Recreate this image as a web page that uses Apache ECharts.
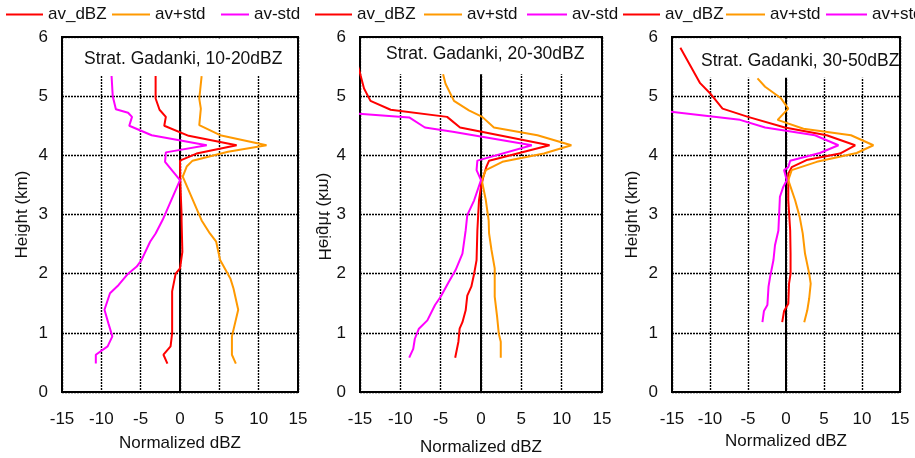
<!DOCTYPE html>
<html><head><meta charset="utf-8">
<script src="https://cdn.jsdelivr.net/npm/echarts@6/dist/echarts.min.js"></script>
<style>html,body{margin:0;padding:0;background:#fff}#c{width:915px;height:458px}</style>
</head><body><div id="c"></div>
<script>
// ---------- DATA ----------
const seriesNames = ['av_dBZ', 'av+std', 'av-std'];
const panelTitles = ['Strat. Gadanki, 10-20dBZ', 'Strat. Gadanki, 20-30dBZ', 'Strat. Gadanki, 30-50dBZ'];
// legend texts as printed (third panel labels its magenta line "av+std")
const legendLabels = [['av_dBZ', 'av+std', 'av-std'], ['av_dBZ', 'av+std', 'av-std'], ['av_dBZ', 'av+std', 'av+std']];
const xAxisTitle = 'Normalized dBZ';
const yAxisTitle = 'Height (km)';

// Panel 1: 10-20 dBZ  (h = height km, v = normalized dBZ)
const p1_av_h   = [5.34, 4.96, 4.77, 4.65, 4.50, 4.33, 4.17, 4.03, 3.91, 3.50, 3.00, 2.90, 2.37, 2.09, 2.00, 1.70, 0.99, 0.77, 0.63, 0.48];
const p1_av_v   = [-3.1, -3.1, -2.6, -1.8, -2.0, 1.1, 7.2, 2.1, 0.0, 0.05, 0.2, 0.2, 0.3, 0.0, -0.55, -1.0, -1.0, -1.2, -2.1, -1.6];
const p1_plus_h = [5.34, 4.96, 4.79, 4.51, 4.34, 4.17, 4.06, 3.91, 3.81, 3.64, 2.90, 2.68, 2.54, 2.23, 1.92, 1.75, 1.39, 0.94, 0.63, 0.48];
const p1_plus_v = [2.75, 2.45, 2.65, 2.45, 5.1, 11.0, 6.1, 1.6, 0.85, 0.35, 2.75, 3.8, 4.6, 5.1, 6.4, 6.8, 7.4, 6.6, 6.6, 7.1];
const p1_minus_h = [5.34, 5.00, 4.78, 4.72, 4.65, 4.50, 4.34, 4.17, 4.05, 3.89, 3.58, 2.91, 2.68, 2.54, 2.23, 2.12, 2.00, 1.81, 1.67, 1.39, 1.16, 0.94, 0.77, 0.63, 0.48];
const p1_minus_v = [-8.7, -8.55, -8.15, -6.6, -6.1, -6.45, -3.6, 3.4, -1.8, -1.9, 0.0, -2.2, -3.1, -3.8, -4.9, -5.5, -6.6, -7.8, -8.9, -9.6, -9.1, -8.6, -9.2, -10.7, -10.7];

// Panel 2: 20-30 dBZ
const p2_av_h   = [5.83, 5.61, 5.44, 5.13, 4.92, 4.77, 4.65, 4.47, 4.17, 3.91, 3.80, 3.64, 3.47, 3.24, 2.73, 2.23, 2.00, 1.78, 1.63, 1.38, 1.18, 1.07, 0.85, 0.58];
const p2_av_v   = [-15.8, -15.5, -15.1, -14.5, -13.7, -11.2, -4.2, -2.6, 8.5, 1.0, 0.65, 0.3, 0.0, -0.25, -0.45, -0.55, -0.85, -1.2, -1.7, -1.9, -2.3, -2.65, -2.8, -3.2];
const p2_plus_h = [5.37, 5.21, 4.92, 4.76, 4.65, 4.47, 4.34, 4.17, 4.03, 3.89, 3.75, 3.58, 3.24, 2.90, 2.68, 2.40, 2.09, 1.61, 1.27, 0.99, 0.85, 0.58];
const p2_plus_v = [-4.7, -4.4, -3.35, -1.5, 0.15, 1.6, 7.0, 11.2, 7.8, 2.65, 0.6, 0.1, 0.6, 0.95, 1.0, 1.3, 1.7, 1.7, 2.0, 2.2, 2.45, 2.45];
const p2_minus_h = [4.71, 4.64, 4.47, 4.40, 4.17, 3.91, 3.75, 3.58, 3.24, 2.99, 2.73, 2.34, 2.06, 1.86, 1.61, 1.47, 1.21, 1.07, 0.90, 0.73, 0.58];
const p2_minus_v = [-15.8, -8.9, -6.95, -3.5, 6.3, -0.45, -0.55, 0.0, -0.85, -1.7, -1.9, -2.3, -3.15, -4.0, -5.0, -5.7, -6.65, -7.7, -8.2, -8.4, -8.9];

// Panel 3: 30-50 dBZ
const p3_av_h   = [5.82, 5.22, 5.05, 4.79, 4.65, 4.47, 4.34, 4.17, 4.03, 3.92, 3.80, 3.69, 3.24, 2.73, 2.34, 2.00, 1.83, 1.49, 1.37, 1.18];
const p3_av_v   = [-13.9, -11.3, -10.0, -8.35, -5.0, -0.15, 5.35, 9.1, 7.1, 2.7, 0.75, 0.3, 0.3, 0.55, 0.6, 0.6, 0.4, 0.3, -0.25, -0.5];
const p3_plus_h = [5.30, 5.16, 4.97, 4.79, 4.60, 4.45, 4.34, 4.17, 4.04, 3.89, 3.75, 3.58, 3.24, 2.96, 2.68, 2.34, 2.00, 1.83, 1.58, 1.38, 1.18];
const p3_plus_v = [-3.75, -2.75, -0.7, 0.3, -1.1, 2.3, 8.55, 11.5, 9.3, 4.05, 0.75, 0.3, 1.2, 1.8, 2.2, 2.5, 3.05, 3.25, 3.05, 2.8, 2.4];
const p3_minus_h = [4.75, 4.60, 4.47, 4.34, 4.17, 4.04, 3.91, 3.80, 3.75, 3.58, 3.47, 3.30, 2.73, 2.48, 2.23, 1.94, 1.78, 1.47, 1.37, 1.18];
const p3_minus_v = [-16.0, -6.05, -2.75, 3.8, 6.9, 4.45, 0.55, 0.3, -0.25, 0.1, -0.35, -0.8, -1.0, -1.45, -1.65, -2.1, -2.3, -2.45, -2.9, -3.1];

// ---------- STYLE / LAYOUT ----------
const FONT = '"Liberation Sans", Arial, sans-serif';
const TXT = '#111';
const colors = ['#ff0000', '#ff9900', '#ff00ff'];
const gridBoxes = [{left: 62, width: 236}, {left: 360, width: 242}, {left: 672, width: 228}];
const GRID_TOP = 37, GRID_H = 355;
const titlePos = [{left: 84, top: 50}, {left: 386, top: 45}, {left: 701, top: 52}];
const titleCut = [5.34, 5.37, 5.31];
const legendLeft = [[6, 112, 221], [315, 424, 527], [623, 726, 826]];
const legendIconW = [[37, 38, 28], [37, 38, 40], [37, 39, 41]];
const xNameGap = [43, 47, 40];

const panels = [
  [[p1_av_v, p1_av_h], [p1_plus_v, p1_plus_h], [p1_minus_v, p1_minus_h]],
  [[p2_av_v, p2_av_h], [p2_plus_v, p2_plus_h], [p2_minus_v, p2_minus_h]],
  [[p3_av_v, p3_av_h], [p3_plus_v, p3_plus_h], [p3_minus_v, p3_minus_h]]
];
function zip(v, h) { return v.map((x, k) => [x, h[k]]); }

const dashed = {color: '#000', type: [2, 1], width: 1.4};
const grid = [], xAxis = [], yAxis = [], yZero = [], series = [], legend = [], title = [];

for (let i = 0; i < 3; i++) {
  grid.push({left: gridBoxes[i].left, width: gridBoxes[i].width, top: GRID_TOP, height: GRID_H,
    outerBoundsMode: 'none', containLabel: false,
    show: true, borderColor: '#000', borderWidth: 2, backgroundColor: 'transparent'});
  xAxis.push({type: 'value', gridIndex: i, min: -15, max: 15, interval: 5,
    axisLine: {show: false, onZero: false}, axisTick: {show: false},
    axisLabel: {fontSize: 17, color: TXT, fontFamily: FONT, margin: 19},
    splitLine: {show: true, lineStyle: dashed},
    name: xAxisTitle, nameLocation: 'middle', nameGap: xNameGap[i],
    nameTextStyle: {fontSize: 17, color: TXT, fontFamily: FONT}});
  yAxis.push({type: 'value', gridIndex: i, min: 0, max: 6, interval: 1, position: 'left',
    axisLine: {show: false, onZero: false}, axisTick: {show: false},
    axisLabel: {fontSize: 17, color: TXT, fontFamily: FONT, margin: 14, padding: [6, 0, 0, 0]},
    splitLine: {show: true, lineStyle: dashed},
    name: i === 1 ? '' : yAxisTitle, nameLocation: 'middle', nameGap: 31,
    nameTextStyle: {fontSize: 17, color: TXT, fontFamily: FONT}});
  yZero.push({type: 'value', gridIndex: i, min: 0, max: 6, interval: 1, position: 'left',
    axisLine: {show: true, onZero: true, lineStyle: {color: '#000', width: 2}},
    axisTick: {show: true, inside: true, length: 4, lineStyle: {color: '#000', width: 1}},
    axisLabel: {show: false}, splitLine: {show: false}});
  for (let j = 0; j < 3; j++) {
    series.push({type: 'line', name: seriesNames[j], xAxisIndex: i, yAxisIndex: i,
      data: zip(panels[i][j][0], panels[i][j][1]),
      symbol: 'none', showSymbol: false, clip: false, z: 3,
      lineStyle: {color: colors[j], width: 2}, itemStyle: {color: colors[j]}});
    const lbl = legendLabels[i][j];
    legend.push({data: [seriesNames[j]], left: legendLeft[i][j], top: 6, padding: 0,
      icon: 'rect', itemWidth: legendIconW[i][j], itemHeight: 2, selectedMode: false,
      formatter: () => lbl,
      textStyle: {fontSize: 17, color: TXT, fontFamily: FONT}});
  }
  title.push({text: panelTitles[i], left: titlePos[i].left, top: titlePos[i].top, padding: 0,
    textStyle: {fontSize: 17.5, fontWeight: 'normal', color: TXT, fontFamily: FONT}});
}

const chart = echarts.init(document.getElementById('c'), null, {renderer: 'canvas'});
chart.setOption({
  animation: false, backgroundColor: '#fff',
  title, legend, grid, xAxis, yAxis: yAxis.concat(yZero), series
});

// white title boxes covering the top of each panel, mirrored y title in panel 2
const graphic = [];
for (let i = 0; i < 3; i++) {
  const a = chart.convertToPixel({gridIndex: i}, [-15, 6]);
  const b = chart.convertToPixel({gridIndex: i}, [15, titleCut[i]]);
  graphic.push({type: 'rect', z: 1, silent: true,
    shape: {x: a[0] + 1.5, y: a[1] + 1.5, width: b[0] - a[0] - 3, height: b[1] - a[1] - 1.5},
    style: {fill: '#fff'}});
}
const c2 = chart.convertToPixel({gridIndex: 1}, [-15, 3]);
graphic.push({type: 'text', z: 10, x: c2[0] - 36, y: c2[1] + 2, rotation: Math.PI / 2, scaleY: -1,
  style: {text: yAxisTitle, font: '17px ' + FONT, fill: TXT, align: 'center', verticalAlign: 'middle'}});
chart.setOption({graphic});
</script>
</body></html>
